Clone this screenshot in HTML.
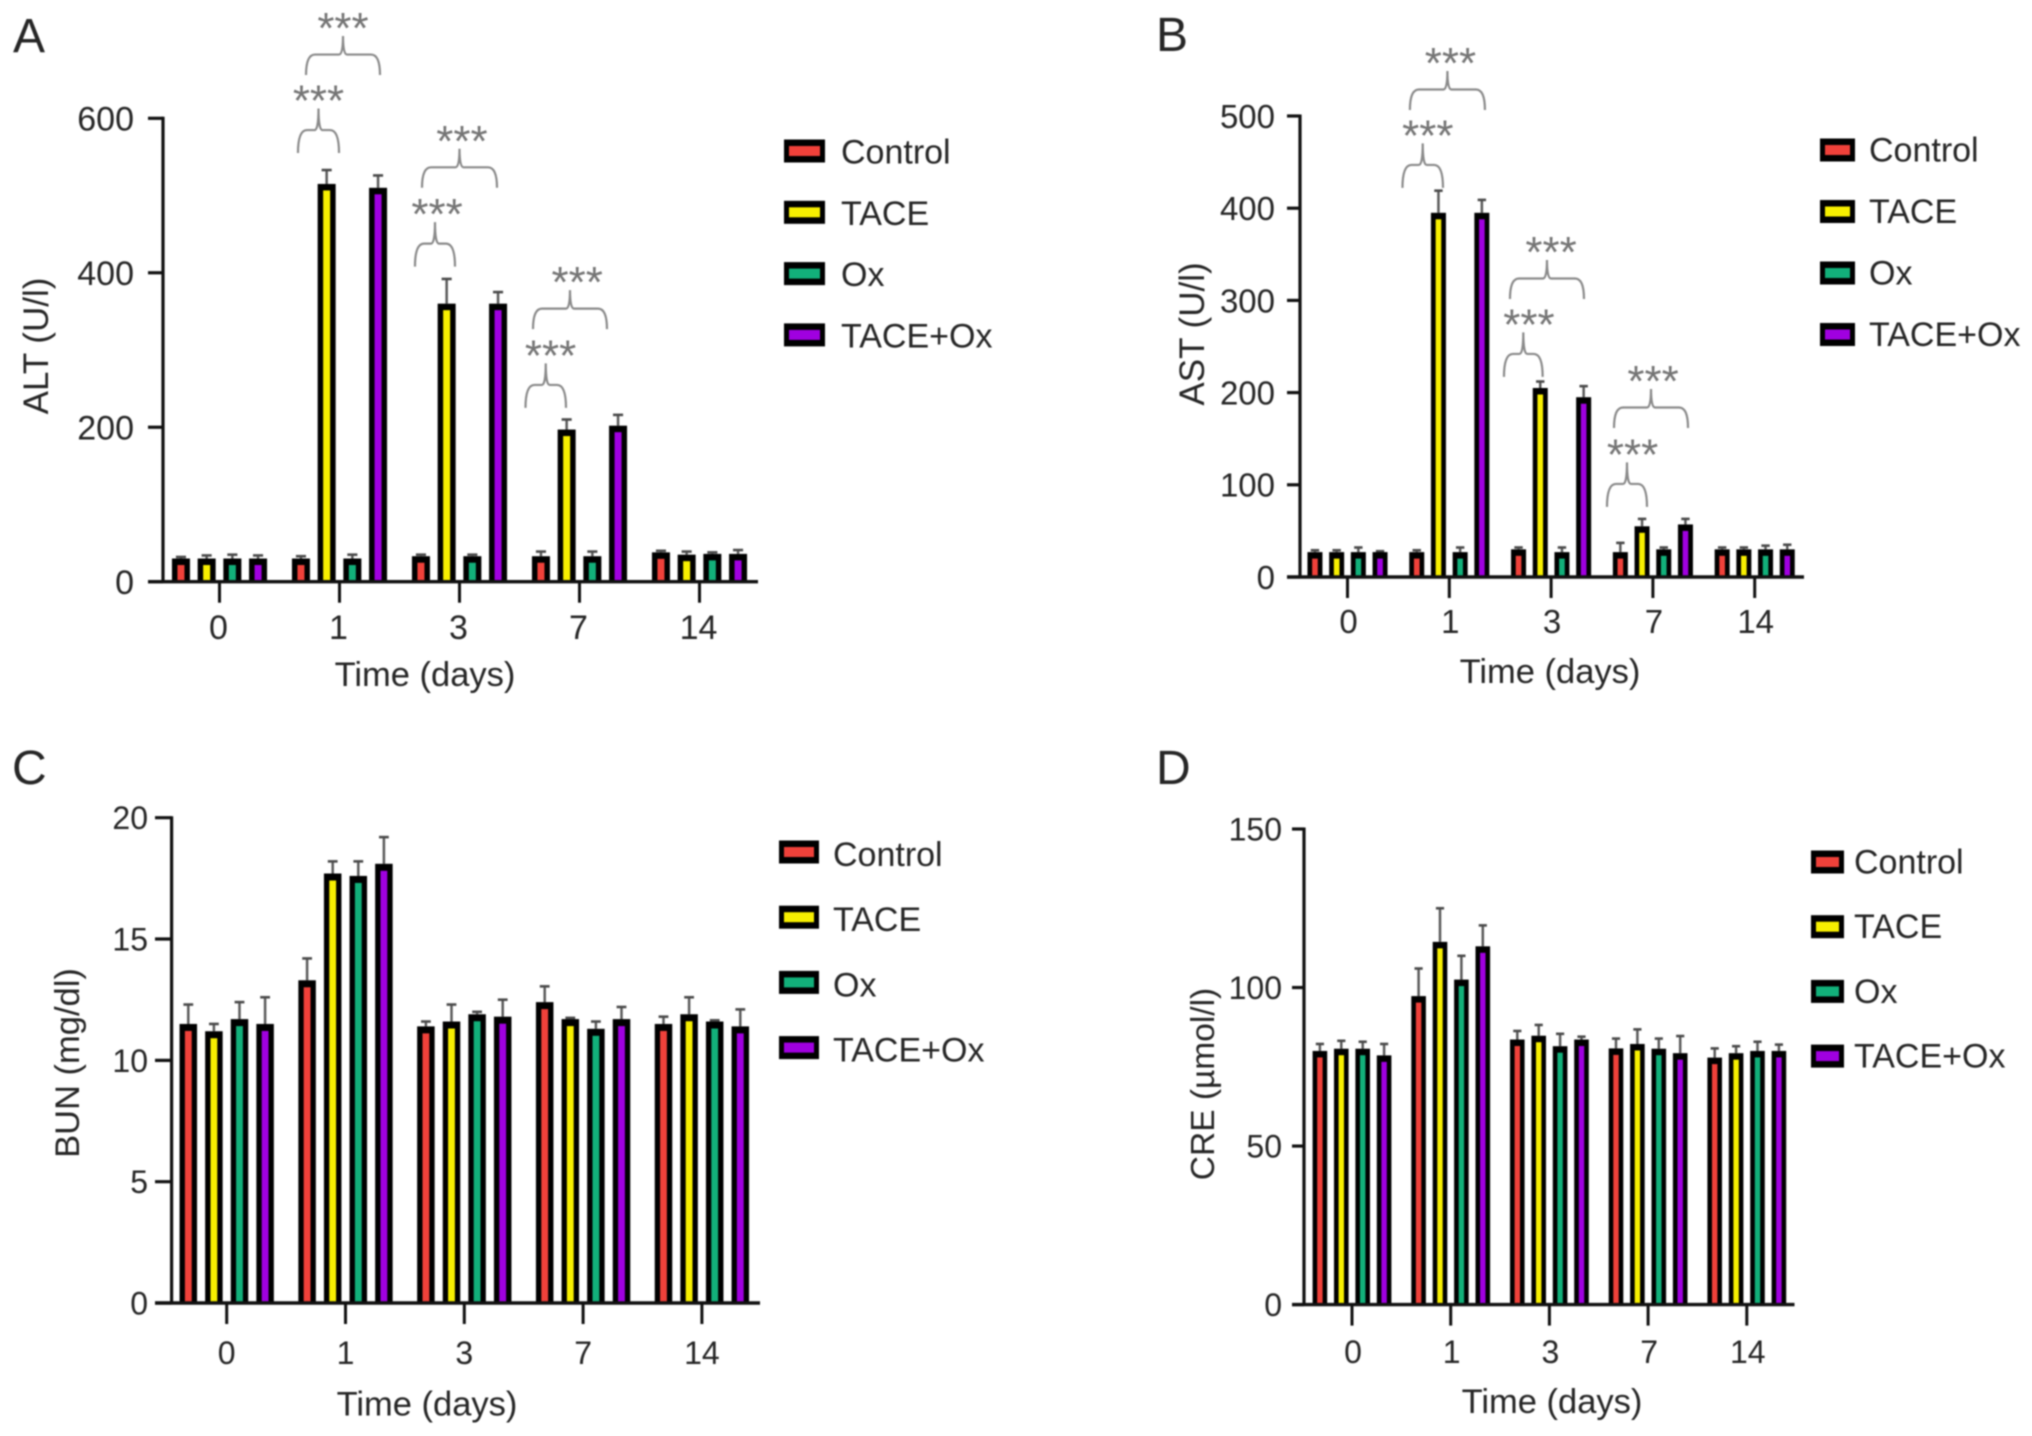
<!DOCTYPE html>
<html lang="en">
<head>
<meta charset="utf-8">
<title>Liver and kidney function markers over time</title>
<style>
html,body{margin:0;padding:0;background:#fff;width:2032px;height:1436px;overflow:hidden}
svg{display:block;filter:blur(.85px)}
text{font-family:"Liberation Sans",sans-serif;fill:#262626}
</style>
</head>
<body>
<svg id="figure" xmlns="http://www.w3.org/2000/svg" width="2032" height="1436" viewBox="0 0 2032 1436"></svg>
<script>
const categories = ['0', '1', '3', '7', '14'];
const seriesNames = ['Control', 'TACE', 'Ox', 'TACE+Ox'];
const seriesColors = ['#f0413a', '#f7ef00', '#12b07a', '#a000e0'];

const altTicks = [0, 200, 400, 600];
const altControl = [30, 30, 33, 33, 38];
const altTace = [30, 515, 360, 197, 35];
const altOx = [30, 30, 33, 33, 36];
const altCombo = [30, 510, 360, 202, 36];
const altControlErr = [2, 3, 2, 6, 2];
const altTaceErr = [4, 18, 32, 13, 4];
const altOxErr = [5, 5, 2, 6, 2];
const altComboErr = [4, 16, 15, 14, 5];
const altBracketGroups = [1, 1, 2, 2, 3, 3];
const altBracketFrom = [-0.346, -0.279, -0.371, -0.3125, -0.45, -0.3875];
const altBracketTo = [-0.004, 0.3375, -0.0375, 0.3125, -0.1125, 0.229];
const altBracketBase = [555, 656, 408, 510, 225, 327];
const altStarShift = [0, 0, 0.017, 0.02, 0.04, 0.06];

const astTicks = [0, 100, 200, 300, 400, 500];
const astControl = [27, 27, 30, 27, 30];
const astTace = [27, 395, 205, 55, 30];
const astOx = [27, 27, 27, 30, 30];
const astCombo = [27, 395, 195, 57, 30];
const astControlErr = [2, 2, 2, 10, 2];
const astTaceErr = [2, 24, 7, 8, 2];
const astOxErr = [5, 5, 5, 2, 4];
const astComboErr = [1, 14, 12, 6, 5];
const astBracketGroups = [1, 1, 2, 2, 3, 3];
const astBracketFrom = [-0.46, -0.387, -0.463, -0.404, -0.451, -0.382];
const astBracketTo = [-0.062, 0.35, -0.083, 0.323, -0.058, 0.345];
const astBracketBase = [422, 506.5, 217, 301.5, 76, 161.6];
const astStarShift = [0.05, 0.03, 0.055, 0.04, 0.055, 0.02];

const bunTicks = [0, 5, 10, 15, 20];
const bunControl = [11.5, 13.3, 11.4, 12.4, 11.5];
const bunTace = [11.2, 17.7, 11.6, 11.7, 11.9];
const bunOx = [11.7, 17.6, 11.9, 11.3, 11.6];
const bunCombo = [11.5, 18.1, 11.8, 11.7, 11.4];
const bunControlErr = [0.8, 0.9, 0.2, 0.65, 0.3];
const bunTaceErr = [0.3, 0.5, 0.7, 0.05, 0.7];
const bunOxErr = [0.7, 0.6, 0.1, 0.3, 0.05];
const bunComboErr = [1.1, 1.1, 0.7, 0.5, 0.7];

const creTicks = [0, 50, 100, 150];
const creControl = [80, 97.3, 83.6, 80.8, 77.9];
const creTace = [80.7, 114.4, 84.8, 82.2, 79.3];
const creOx = [80.7, 102.5, 81.5, 80.7, 80];
const creCombo = [78.6, 113, 83.6, 79.3, 80];
const creControlErr = [2.2, 8.7, 2.7, 3.1, 2.9];
const creTaceErr = [2.5, 10.6, 3.4, 4.6, 2.2];
const creOxErr = [2.2, 7.5, 3.9, 3.2, 2.9];
const creComboErr = [3.6, 6.6, 0.9, 5.4, 2];

const NS = 'http://www.w3.org/2000/svg';
const root = document.getElementById('figure');

function mk(parent, tag, attrs, text) {
  const el = document.createElementNS(NS, tag);
  for (const k in attrs) el.setAttribute(k, attrs[k]);
  if (text !== undefined) el.textContent = text;
  parent.appendChild(el);
  return el;
}

function drawPanel(p) {
  const panel = mk(root, 'g', {});
  
  

  const yScale = v => p.y0 - v * (p.y0 - p.yTop) / p.yMax;
  const groupX = g => p.x0 + g * p.groupStep;
  const barX = (g, s) => groupX(g) + (s - 1.5) * p.barStep;

  const letter = mk(panel, 'text', {x: p.letterX, y: p.letterY, 'font-size': 48}, p.letter);
  
  

  // bars and error bars
  p.values.forEach((vals, s) => {
    vals.forEach((v, g) => {
      const cx = barX(g, s);
      const top = yScale(v);
      const e = p.errors[s][g];
      const errTop = yScale(v + e);
      const capW = p.barW * 0.56;

      const whisker = mk(panel, 'line', {x1: cx, x2: cx, y1: top, y2: errTop, stroke: '#5a5a5a', 'stroke-width': 2.5});
      
      

      const cap = mk(panel, 'line', {x1: cx - capW / 2, x2: cx + capW / 2, y1: errTop, y2: errTop, stroke: '#4a4a4a', 'stroke-width': 2.6});
      
      

      const outer = mk(panel, 'rect', {x: cx - p.barW / 2, y: top, width: p.barW, height: p.y0 - top, fill: '#000'});
      
      

      const innerTop = top + p.barBorder;
      const inner = mk(panel, 'rect', {x: cx - p.barFill / 2, y: innerTop, width: p.barFill, height: Math.max(0, p.y0 - innerTop), fill: seriesColors[s]});
      
      
    });
  });

  // axes
  const yAxis = mk(panel, 'line', {x1: p.axisX, x2: p.axisX, y1: p.yTop - 1.5, y2: p.y0, stroke: '#111', 'stroke-width': 3.2});
  
  

  const xAxis = mk(panel, 'line', {x1: p.axisLeft, x2: p.axisRight, y1: p.y0, y2: p.y0, stroke: '#111', 'stroke-width': 3.4});
  
  

  p.ticks.forEach(t => {
    const y = yScale(t);
    const mark = mk(panel, 'line', {x1: p.axisLeft, x2: p.axisX, y1: y, y2: y, stroke: '#111', 'stroke-width': 3.2});
    
    

    const label = mk(panel, 'text', {x: p.tickRight, y: y + p.tickFs * 0.36, 'font-size': p.tickFs, 'text-anchor': 'end'}, t);
    
    
  });

  categories.forEach((c, g) => {
    const x = groupX(g);
    const mark = mk(panel, 'line', {x1: x, x2: x, y1: p.y0, y2: p.y0 + 21, stroke: '#111', 'stroke-width': 3});
    
    

    const label = mk(panel, 'text', {x: x + p.xLabelShift, y: p.xLabelY + p.tickFs * 0.36, 'font-size': p.tickFs, 'text-anchor': 'middle'}, c);
    
    
  });

  const xTitle = mk(panel, 'text', {x: p.xTitleX, y: p.xTitleY + 12, 'font-size': 34.5, 'text-anchor': 'middle'}, 'Time (days)');
  
  

  const yTitle = mk(panel, 'text', {x: 0, y: 0, 'font-size': p.yTitleFs, 'text-anchor': 'middle', transform: 'translate(' + (p.yTitleX + 12) + ' ' + p.yTitleY + ') rotate(-90)'}, p.yTitle);
  
  

  // significance brackets
  (p.bracketGroups || []).forEach((g, i) => {
    const isOuter = i % 2 === 1;
    const rise = isOuter ? 20.5 : 23;
    const stem = isOuter ? 18.5 : 21.5;
    const bottom = yScale(p.bracketBase[i]);
    const top = bottom - rise;
    const L = groupX(g) + p.bracketFrom[i] * p.groupStep;
    const R = groupX(g) + p.bracketTo[i] * p.groupStep;
    const mid = (L + R) / 2;
    const d = 'M' + L + ' ' + bottom + ' Q' + L + ' ' + top + ' ' + (L + 9) + ' ' + top +
      ' H' + (mid - 4) + ' Q' + mid + ' ' + top + ' ' + mid + ' ' + (top - stem) +
      ' Q' + mid + ' ' + top + ' ' + (mid + 4) + ' ' + top +
      ' H' + (R - 9) + ' Q' + R + ' ' + top + ' ' + R + ' ' + bottom;
    const bracket = mk(panel, 'path', {d: d, fill: 'none', stroke: '#8a8a8a', 'stroke-width': 2.2});
    
    

    const starY = top - stem - 15;
    const starX = mid + p.starShift[i] * p.groupStep;
    const stars = mk(panel, 'text', {x: starX, y: starY + 22, 'font-size': 44, 'text-anchor': 'middle', style: 'fill:#757575'}, '***');
    
    
  });

  // legend
  seriesNames.forEach((name, s) => {
    const y = p.legendY + s * p.legendStep;
    const entry = mk(panel, 'g', {});
    
    

    const box = mk(entry, 'rect', {x: p.legendX, y: y - 11.5, width: p.legendW, height: 23, fill: '#000'});
    
    

    const fill = mk(entry, 'rect', {x: p.legendX + 5, y: y - 5, width: p.legendW - 10, height: 10, fill: seriesColors[s]});
    
    

    const label = mk(entry, 'text', {x: p.legendTextX, y: y + p.legendTextDy, 'font-size': 34}, name);
    
    
  });
}

drawPanel({
  key: 'alt', letter: 'A', letterX: 13, letterY: 52, yTitle: 'ALT (U/l)', yTitleFs: 35,
  yMax: 600, ticks: altTicks, y0: 581.7, yTop: 118.3,
  axisX: 163, axisLeft: 148, axisRight: 758, tickRight: 134, tickFs: 34,
  x0: 219.5, groupStep: 120, barStep: 25.7, barW: 18, barFill: 7, barBorder: 6.5,
  xLabelY: 627, xLabelShift: -1, xTitleX: 425, xTitleY: 674, yTitleX: 36, yTitleY: 346,
  legendX: 784, legendW: 41, legendTextX: 841, legendY: 151, legendStep: 61.3, legendTextDy: 12.5,
  values: [altControl, altTace, altOx, altCombo],
  errors: [altControlErr, altTaceErr, altOxErr, altComboErr],
  bracketGroups: altBracketGroups, bracketFrom: altBracketFrom, bracketTo: altBracketTo, bracketBase: altBracketBase, starShift: altStarShift
});

drawPanel({
  key: 'ast', letter: 'B', letterX: 1156, letterY: 51, yTitle: 'AST (U/l)', yTitleFs: 35,
  yMax: 500, ticks: astTicks, y0: 577, yTop: 116,
  axisX: 1300, axisLeft: 1287, axisRight: 1804, tickRight: 1275, tickFs: 33,
  x0: 1347.5, groupStep: 101.8, barStep: 21.7, barW: 15, barFill: 5.6, barBorder: 6.5,
  xLabelY: 621, xLabelShift: 1, xTitleX: 1550, xTitleY: 671, yTitleX: 1192, yTitleY: 334,
  legendX: 1820, legendW: 35, legendTextX: 1869, legendY: 150, legendStep: 61.5, legendTextDy: 11.5,
  values: [astControl, astTace, astOx, astCombo],
  errors: [astControlErr, astTaceErr, astOxErr, astComboErr],
  bracketGroups: astBracketGroups, bracketFrom: astBracketFrom, bracketTo: astBracketTo, bracketBase: astBracketBase, starShift: astStarShift
});

drawPanel({
  key: 'bun', letter: 'C', letterX: 12, letterY: 784, yTitle: 'BUN (mg/dl)', yTitleFs: 34.5,
  yMax: 20, ticks: bunTicks, y0: 1303, yTop: 817.7,
  axisX: 171.6, axisLeft: 155, axisRight: 760, tickRight: 148, tickFs: 32,
  x0: 226.7, groupStep: 118.8, barStep: 25.6, barW: 17.5, barFill: 6.8, barBorder: 7,
  xLabelY: 1352.5, xLabelShift: 0, xTitleX: 427, xTitleY: 1403.6, yTitleX: 67, yTitleY: 1063,
  legendX: 779, legendW: 40, legendTextX: 833, legendY: 852, legendStep: 65.2, legendTextDy: 14,
  values: [bunControl, bunTace, bunOx, bunCombo],
  errors: [bunControlErr, bunTaceErr, bunOxErr, bunComboErr]
});

drawPanel({
  key: 'cre', letter: 'D', letterX: 1156, letterY: 784, yTitle: 'CRE (µmol/l)', yTitleFs: 33.5,
  yMax: 150, ticks: creTicks, y0: 1304.6, yTop: 829,
  axisX: 1304, axisLeft: 1292, axisRight: 1794.5, tickRight: 1282, tickFs: 32,
  x0: 1352, groupStep: 98.7, barStep: 21.4, barW: 14.6, barFill: 5.4, barBorder: 6.5,
  xLabelY: 1351.6, xLabelShift: 1, xTitleX: 1552, xTitleY: 1401, yTitleX: 1202, yTitleY: 1084,
  legendX: 1811, legendW: 33, legendTextX: 1854, legendY: 862, legendStep: 64.7, legendTextDy: 11.5,
  values: [creControl, creTace, creOx, creCombo],
  errors: [creControlErr, creTaceErr, creOxErr, creComboErr]
});
</script>
</body>
</html>
